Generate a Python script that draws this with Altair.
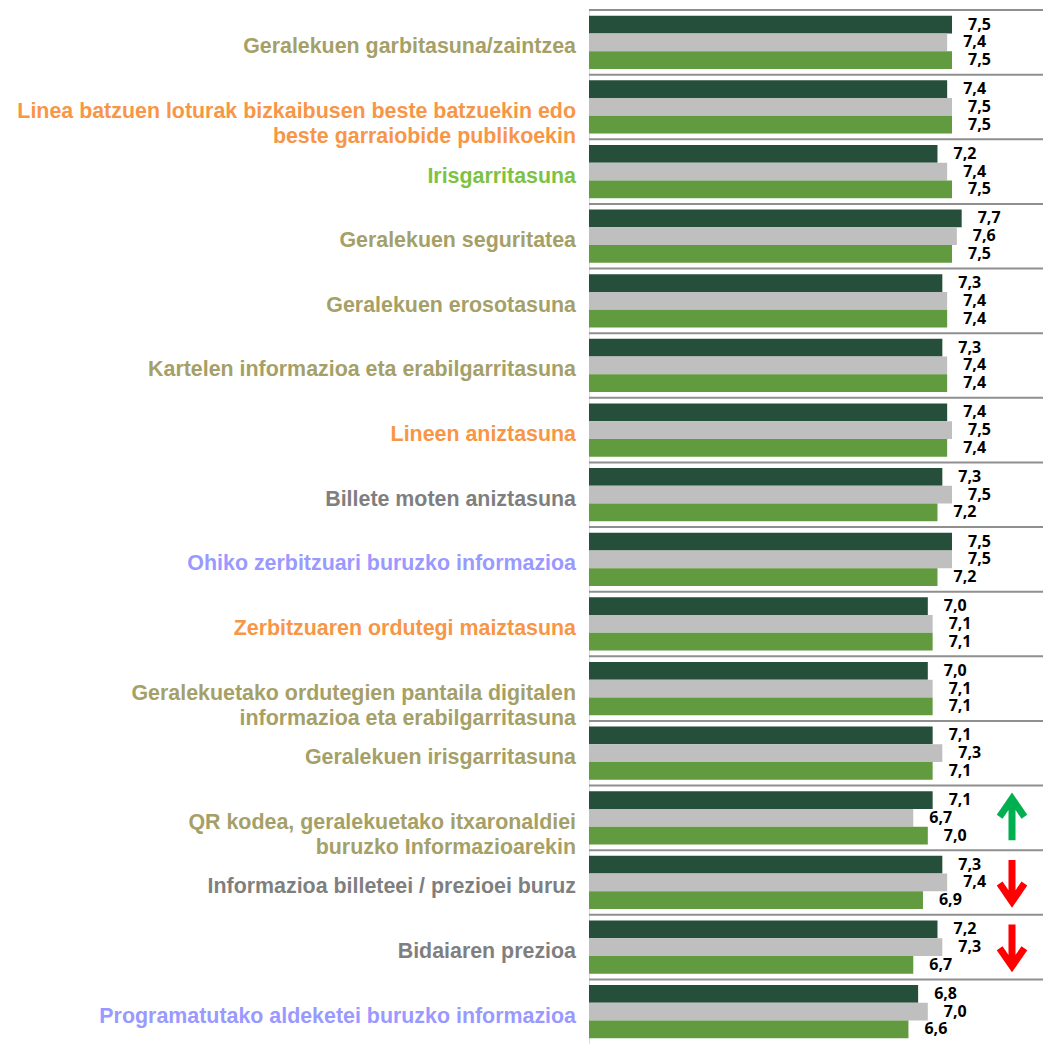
import altair as alt
import pandas as pd

categories = [
    "Geralekuen garbitasuna/zaintzea",
    "Linea batzuen loturak bizkaibusen beste batzuekin edo|beste garraiobide publikoekin",
    "Irisgarritasuna",
    "Geralekuen seguritatea",
    "Geralekuen erosotasuna",
    "Kartelen informazioa eta erabilgarritasuna",
    "Lineen aniztasuna",
    "Billete moten aniztasuna",
    "Ohiko zerbitzuari buruzko informazioa",
    "Zerbitzuaren ordutegi maiztasuna",
    "Geralekuetako ordutegien pantaila digitalen|informazioa eta erabilgarritasuna",
    "Geralekuen irisgarritasuna",
    "QR kodea, geralekuetako itxaronaldiei|buruzko Informazioarekin",
    "Informazioa billeteei / prezioei buruz",
    "Bidaiaren prezioa",
    "Programatutako aldeketei buruzko informazioa",
]

OLIVE = "#a59f68"
ORANGE = "#f79646"
GREEN = "#7dc242"
GREY = "#7f7f7f"
LAVENDER = "#9999ff"
label_colors = [OLIVE, ORANGE, GREEN, OLIVE, OLIVE, OLIVE, ORANGE, GREY,
                LAVENDER, ORANGE, OLIVE, OLIVE, OLIVE, GREY, GREY, LAVENDER]

serie_names = ["1. neurketa", "2. neurketa", "3. neurketa"]
serie1 = [7.5, 7.4, 7.2, 7.7, 7.3, 7.3, 7.4, 7.3, 7.5, 7.0, 7.0, 7.1, 7.1, 7.3, 7.2, 6.8]
serie2 = [7.4, 7.5, 7.4, 7.6, 7.4, 7.4, 7.5, 7.5, 7.5, 7.1, 7.1, 7.3, 6.7, 7.4, 7.3, 7.0]
serie3 = [7.5, 7.5, 7.5, 7.5, 7.4, 7.4, 7.4, 7.2, 7.2, 7.1, 7.1, 7.1, 7.0, 6.9, 6.7, 6.6]
trends = ["", "", "", "", "", "", "", "", "", "", "", "", "up", "down", "down", ""]

bar_colors = ["#254f3b", "#bfbfbf", "#629a3f"]

rows = []
for i, c in enumerate(categories):
    for s, vals in zip(serie_names, [serie1, serie2, serie3]):
        rows.append({"cat": c, "serie": s, "value": vals[i]})
bars_df = pd.DataFrame(rows)
cat_df = pd.DataFrame({"cat": categories, "color": label_colors, "trend": trends})

W = 454
H = 1034

yscale = alt.Scale(domain=categories, paddingInner=0, paddingOuter=0)
y_enc = alt.Y("cat:N", sort=categories, scale=yscale, axis=None)
y_top = alt.Y("cat:N", sort=categories, scale=yscale, axis=None, bandPosition=0)
yoff = alt.YOffset("serie:N", sort=serie_names,
                   scale=alt.Scale(domain=serie_names, paddingInner=0, paddingOuter=0.32))
x_enc = alt.X("value:Q", scale=alt.Scale(domain=[0, 9.38], nice=False, zero=True), axis=None)

rules = alt.Chart(cat_df).mark_rule(color="#8f8f8f", strokeWidth=2).encode(
    y=y_top, x=alt.value(0), x2=alt.value(W)
)

bars = alt.Chart(bars_df).mark_bar().encode(
    y=y_enc, yOffset=yoff, x=x_enc,
    color=alt.Color("serie:N", scale=alt.Scale(domain=serie_names, range=bar_colors), legend=None),
)

values = alt.Chart(bars_df).transform_calculate(
    lab="replace(format(datum.value, '.1f'), '.', ',')"
).mark_text(
    align="left", baseline="middle", dx=16, font="Open Sans", fontWeight="bold",
    fontSize=16, color="#000000"
).encode(y=y_enc, yOffset=yoff, x=x_enc, text="lab:N")

labels = alt.Chart(cat_df).transform_calculate(
    lines="split(datum.cat, '|')"
).mark_text(
    align="right", baseline="middle", dx=-13, dy=5, font="Liberation Sans",
    fontWeight="bold", fontSize=21.4, lineHeight=25
).encode(
    y=y_enc, x=alt.value(0), text="lines:N",
    color=alt.Color("color:N", scale=None),
)

up_path = "M0,1L0,-0.85M-0.55,-0.05L0,-0.85L0.55,-0.05"
down_path = "M0,-1L0,0.85M-0.55,0.05L0,0.85L0.55,0.05"

arrows = alt.Chart(cat_df).transform_filter("datum.trend != ''").mark_point(
    filled=False, strokeWidth=7, size=2025, opacity=1
).encode(
    y=y_enc, x=alt.value(423),
    shape=alt.Shape("trend:N", scale=alt.Scale(domain=["up", "down"], range=[up_path, down_path]), legend=None),
    color=alt.Color("trend:N", scale=alt.Scale(domain=["up", "down"], range=["#00b050", "#ff0000"]), legend=None),
)

chart = alt.layer(rules, bars, values, labels, arrows).resolve_scale(
    color="independent", shape="independent"
).properties(
    width=W, height=H,
    autosize=alt.AutoSizeParams(type="none"),
    padding={"left": 581, "top": 2, "right": 0, "bottom": 0},
).configure_view(stroke=None).configure(background="white")

chart.save("out.html", embed_options={"renderer": "svg", "actions": False})
